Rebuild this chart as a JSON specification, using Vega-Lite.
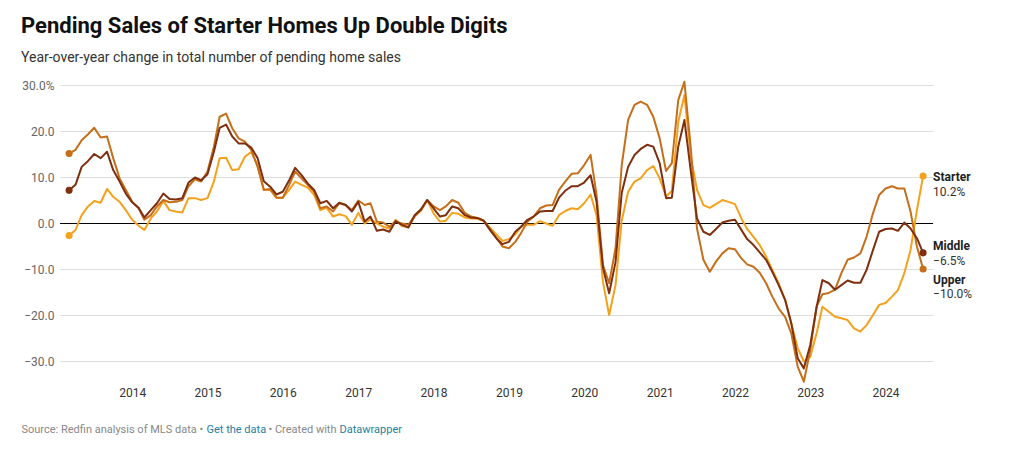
{
  "$schema": "https://vega.github.io/schema/vega-lite/v6.json",
  "width": 873,
  "height": 299,
  "autosize": {"type": "none"},
  "padding": {"left": 60, "top": 85, "right": 80, "bottom": 66},
  "background": "white",
  "title": {
    "text": "Pending Sales of Starter Homes Up Double Digits",
    "subtitle": "Year-over-year change in total number of pending home sales",
    "anchor": "start",
    "frame": "group",
    "dx": -39,
    "font": "Roboto",
    "fontSize": 22,
    "fontWeight": 700,
    "color": "#111111",
    "subtitleFont": "Roboto",
    "subtitleFontSize": 14,
    "subtitleColor": "#333333",
    "subtitlePadding": 13,
    "offset": 13
  },
  "config": {"view": {"stroke": null}, "font": "Roboto"},
  "resolve": {"axis": {"x": "independent"}},
  "data": {
    "values": [
      {"date": "2013-03-01", "Starter": -2.7, "Middle": 7.1, "Upper": 15.1},
      {"date": "2013-04-01", "Starter": -1.5, "Middle": 8.3, "Upper": 15.9},
      {"date": "2013-05-01", "Starter": 1.7, "Middle": 12.2, "Upper": 18.0},
      {"date": "2013-06-01", "Starter": 3.6, "Middle": 13.5, "Upper": 19.3},
      {"date": "2013-07-01", "Starter": 4.8, "Middle": 15.0, "Upper": 20.7},
      {"date": "2013-08-01", "Starter": 4.4, "Middle": 14.1, "Upper": 18.6},
      {"date": "2013-09-01", "Starter": 7.4, "Middle": 15.5, "Upper": 18.8},
      {"date": "2013-10-01", "Starter": 5.7, "Middle": 11.5, "Upper": 14.1},
      {"date": "2013-11-01", "Starter": 4.6, "Middle": 9.0, "Upper": 9.7},
      {"date": "2013-12-01", "Starter": 2.8, "Middle": 6.4, "Upper": 7.2},
      {"date": "2014-01-01", "Starter": 0.7, "Middle": 4.5, "Upper": 4.6},
      {"date": "2014-02-01", "Starter": -0.6, "Middle": 3.3, "Upper": 3.2},
      {"date": "2014-03-01", "Starter": -1.5, "Middle": 1.2, "Upper": 0.7},
      {"date": "2014-04-01", "Starter": 1.0, "Middle": 2.8, "Upper": 1.7},
      {"date": "2014-05-01", "Starter": 2.5, "Middle": 4.3, "Upper": 3.6},
      {"date": "2014-06-01", "Starter": 4.8, "Middle": 6.4, "Upper": 5.0},
      {"date": "2014-07-01", "Starter": 2.8, "Middle": 5.2, "Upper": 4.5},
      {"date": "2014-08-01", "Starter": 2.5, "Middle": 5.1, "Upper": 4.6},
      {"date": "2014-09-01", "Starter": 2.3, "Middle": 5.4, "Upper": 5.0},
      {"date": "2014-10-01", "Starter": 5.4, "Middle": 8.8, "Upper": 8.0},
      {"date": "2014-11-01", "Starter": 5.4, "Middle": 9.9, "Upper": 9.5},
      {"date": "2014-12-01", "Starter": 5.0, "Middle": 9.3, "Upper": 9.0},
      {"date": "2015-01-01", "Starter": 5.4, "Middle": 10.6, "Upper": 11.2},
      {"date": "2015-02-01", "Starter": 9.0, "Middle": 15.5, "Upper": 16.6},
      {"date": "2015-03-01", "Starter": 14.1, "Middle": 20.7, "Upper": 23.1},
      {"date": "2015-04-01", "Starter": 14.2, "Middle": 21.4, "Upper": 23.8},
      {"date": "2015-05-01", "Starter": 11.5, "Middle": 18.8, "Upper": 20.6},
      {"date": "2015-06-01", "Starter": 11.7, "Middle": 17.3, "Upper": 18.4},
      {"date": "2015-07-01", "Starter": 14.4, "Middle": 17.3, "Upper": 17.7},
      {"date": "2015-08-01", "Starter": 15.4, "Middle": 16.4, "Upper": 15.9},
      {"date": "2015-09-01", "Starter": 12.6, "Middle": 14.1, "Upper": 12.2},
      {"date": "2015-10-01", "Starter": 7.2, "Middle": 9.1, "Upper": 7.2},
      {"date": "2015-11-01", "Starter": 7.2, "Middle": 7.9, "Upper": 7.4},
      {"date": "2015-12-01", "Starter": 5.5, "Middle": 6.2, "Upper": 5.5},
      {"date": "2016-01-01", "Starter": 5.5, "Middle": 6.8, "Upper": 5.5},
      {"date": "2016-02-01", "Starter": 7.2, "Middle": 9.3, "Upper": 8.3},
      {"date": "2016-03-01", "Starter": 9.0, "Middle": 12.0, "Upper": 11.2},
      {"date": "2016-04-01", "Starter": 8.3, "Middle": 10.4, "Upper": 9.7},
      {"date": "2016-05-01", "Starter": 7.7, "Middle": 8.6, "Upper": 8.3},
      {"date": "2016-06-01", "Starter": 6.1, "Middle": 7.2, "Upper": 6.8},
      {"date": "2016-07-01", "Starter": 2.8, "Middle": 4.3, "Upper": 3.2},
      {"date": "2016-08-01", "Starter": 3.3, "Middle": 4.8, "Upper": 3.6},
      {"date": "2016-09-01", "Starter": 1.4, "Middle": 3.2, "Upper": 2.5},
      {"date": "2016-10-01", "Starter": 1.9, "Middle": 4.4, "Upper": 4.3},
      {"date": "2016-11-01", "Starter": 1.5, "Middle": 3.9, "Upper": 3.9},
      {"date": "2016-12-01", "Starter": -0.4, "Middle": 2.5, "Upper": 2.8},
      {"date": "2017-01-01", "Starter": 2.2, "Middle": 4.6, "Upper": 4.9},
      {"date": "2017-02-01", "Starter": -0.1, "Middle": 0.3, "Upper": 3.9},
      {"date": "2017-03-01", "Starter": 0.8, "Middle": 1.4, "Upper": 4.3},
      {"date": "2017-04-01", "Starter": -0.1, "Middle": -1.7, "Upper": 0.3},
      {"date": "2017-05-01", "Starter": -0.8, "Middle": -1.4, "Upper": 0.1},
      {"date": "2017-06-01", "Starter": -1.2, "Middle": -1.9, "Upper": -0.8},
      {"date": "2017-07-01", "Starter": 0.7, "Middle": 0.4, "Upper": 0.3},
      {"date": "2017-08-01", "Starter": -0.7, "Middle": -0.4, "Upper": -0.1},
      {"date": "2017-09-01", "Starter": -0.8, "Middle": -1.0, "Upper": -0.4},
      {"date": "2017-10-01", "Starter": 1.4, "Middle": 1.7, "Upper": 1.5},
      {"date": "2017-11-01", "Starter": 2.7, "Middle": 3.0, "Upper": 2.8},
      {"date": "2017-12-01", "Starter": 5.0, "Middle": 5.0, "Upper": 5.0},
      {"date": "2018-01-01", "Starter": 2.1, "Middle": 3.2, "Upper": 3.6},
      {"date": "2018-02-01", "Starter": 0.3, "Middle": 1.4, "Upper": 2.8},
      {"date": "2018-03-01", "Starter": 0.5, "Middle": 1.7, "Upper": 3.6},
      {"date": "2018-04-01", "Starter": 2.2, "Middle": 3.6, "Upper": 5.0},
      {"date": "2018-05-01", "Starter": 2.0, "Middle": 3.2, "Upper": 4.4},
      {"date": "2018-06-01", "Starter": 1.2, "Middle": 1.7, "Upper": 2.2},
      {"date": "2018-07-01", "Starter": 1.0, "Middle": 1.2, "Upper": 1.4},
      {"date": "2018-08-01", "Starter": 0.9, "Middle": 1.1, "Upper": 1.1},
      {"date": "2018-09-01", "Starter": 0.4, "Middle": 0.5, "Upper": 0.5},
      {"date": "2018-10-01", "Starter": -1.0, "Middle": -1.5, "Upper": -1.2},
      {"date": "2018-11-01", "Starter": -2.5, "Middle": -3.3, "Upper": -3.2},
      {"date": "2018-12-01", "Starter": -3.9, "Middle": -4.6, "Upper": -5.1},
      {"date": "2019-01-01", "Starter": -3.5, "Middle": -4.1, "Upper": -5.5},
      {"date": "2019-02-01", "Starter": -2.5, "Middle": -1.9, "Upper": -4.1},
      {"date": "2019-03-01", "Starter": -0.8, "Middle": -0.8, "Upper": -2.2},
      {"date": "2019-04-01", "Starter": -0.4, "Middle": 0.7, "Upper": 0.3},
      {"date": "2019-05-01", "Starter": -0.4, "Middle": 1.4, "Upper": 1.4},
      {"date": "2019-06-01", "Starter": 0.4, "Middle": 2.5, "Upper": 3.2},
      {"date": "2019-07-01", "Starter": -0.1, "Middle": 2.6, "Upper": 3.8},
      {"date": "2019-08-01", "Starter": -0.6, "Middle": 2.6, "Upper": 3.9},
      {"date": "2019-09-01", "Starter": 1.7, "Middle": 5.5, "Upper": 7.2},
      {"date": "2019-10-01", "Starter": 2.6, "Middle": 7.0, "Upper": 9.0},
      {"date": "2019-11-01", "Starter": 3.2, "Middle": 8.0, "Upper": 10.7},
      {"date": "2019-12-01", "Starter": 3.0, "Middle": 8.0, "Upper": 10.8},
      {"date": "2020-01-01", "Starter": 4.3, "Middle": 8.8, "Upper": 12.6},
      {"date": "2020-02-01", "Starter": 6.2, "Middle": 10.4, "Upper": 14.8},
      {"date": "2020-03-01", "Starter": 1.7, "Middle": 4.6, "Upper": 6.1},
      {"date": "2020-04-01", "Starter": -12.8, "Middle": -9.7, "Upper": -9.1},
      {"date": "2020-05-01", "Starter": -20.0, "Middle": -15.3, "Upper": -13.1},
      {"date": "2020-06-01", "Starter": -13.5, "Middle": -8.5, "Upper": -5.5},
      {"date": "2020-07-01", "Starter": 0.5, "Middle": 6.5, "Upper": 12.5},
      {"date": "2020-08-01", "Starter": 6.8, "Middle": 12.2, "Upper": 22.4},
      {"date": "2020-09-01", "Starter": 9.0, "Middle": 14.8, "Upper": 25.7},
      {"date": "2020-10-01", "Starter": 9.7, "Middle": 16.1, "Upper": 26.4},
      {"date": "2020-11-01", "Starter": 11.5, "Middle": 17.0, "Upper": 25.7},
      {"date": "2020-12-01", "Starter": 12.4, "Middle": 16.6, "Upper": 23.1},
      {"date": "2021-01-01", "Starter": 9.7, "Middle": 13.0, "Upper": 18.4},
      {"date": "2021-02-01", "Starter": 5.7, "Middle": 5.4, "Upper": 11.3},
      {"date": "2021-03-01", "Starter": 7.0, "Middle": 5.5, "Upper": 13.0},
      {"date": "2021-04-01", "Starter": 22.0, "Middle": 16.6, "Upper": 26.7},
      {"date": "2021-05-01", "Starter": 27.8, "Middle": 22.4, "Upper": 30.7},
      {"date": "2021-06-01", "Starter": 14.4, "Middle": 11.2, "Upper": 16.2},
      {"date": "2021-07-01", "Starter": 7.2, "Middle": 1.0, "Upper": -1.2},
      {"date": "2021-08-01", "Starter": 3.9, "Middle": -1.9, "Upper": -8.0},
      {"date": "2021-09-01", "Starter": 3.3, "Middle": -2.6, "Upper": -10.6},
      {"date": "2021-10-01", "Starter": 4.1, "Middle": -1.3, "Upper": -8.4},
      {"date": "2021-11-01", "Starter": 5.0, "Middle": 0.1, "Upper": -6.6},
      {"date": "2021-12-01", "Starter": 4.6, "Middle": 0.5, "Upper": -5.5},
      {"date": "2022-01-01", "Starter": 4.1, "Middle": 0.7, "Upper": -5.7},
      {"date": "2022-02-01", "Starter": 1.0, "Middle": -1.5, "Upper": -7.7},
      {"date": "2022-03-01", "Starter": -1.3, "Middle": -3.5, "Upper": -9.0},
      {"date": "2022-04-01", "Starter": -3.0, "Middle": -4.8, "Upper": -9.5},
      {"date": "2022-05-01", "Starter": -4.8, "Middle": -6.4, "Upper": -10.8},
      {"date": "2022-06-01", "Starter": -7.3, "Middle": -8.0, "Upper": -13.1},
      {"date": "2022-07-01", "Starter": -10.2, "Middle": -10.6, "Upper": -16.0},
      {"date": "2022-08-01", "Starter": -13.1, "Middle": -13.5, "Upper": -18.6},
      {"date": "2022-09-01", "Starter": -16.7, "Middle": -16.7, "Upper": -20.4},
      {"date": "2022-10-01", "Starter": -21.8, "Middle": -21.8, "Upper": -24.0},
      {"date": "2022-11-01", "Starter": -27.2, "Middle": -29.4, "Upper": -31.2},
      {"date": "2022-12-01", "Starter": -30.1, "Middle": -31.6, "Upper": -34.5},
      {"date": "2023-01-01", "Starter": -29.1, "Middle": -26.5, "Upper": -27.6},
      {"date": "2023-02-01", "Starter": -23.9, "Middle": -18.2, "Upper": -18.1},
      {"date": "2023-03-01", "Starter": -18.2, "Middle": -12.4, "Upper": -15.5},
      {"date": "2023-04-01", "Starter": -19.3, "Middle": -13.1, "Upper": -15.2},
      {"date": "2023-05-01", "Starter": -20.4, "Middle": -14.5, "Upper": -14.5},
      {"date": "2023-06-01", "Starter": -20.7, "Middle": -13.5, "Upper": -10.9},
      {"date": "2023-07-01", "Starter": -21.1, "Middle": -12.5, "Upper": -8.0},
      {"date": "2023-08-01", "Starter": -22.9, "Middle": -13.0, "Upper": -7.5},
      {"date": "2023-09-01", "Starter": -23.6, "Middle": -13.0, "Upper": -6.6},
      {"date": "2023-10-01", "Starter": -22.2, "Middle": -10.2, "Upper": -3.0},
      {"date": "2023-11-01", "Starter": -20.0, "Middle": -5.9, "Upper": 2.1},
      {"date": "2023-12-01", "Starter": -17.8, "Middle": -1.9, "Upper": 6.1},
      {"date": "2024-01-01", "Starter": -17.4, "Middle": -1.3, "Upper": 7.5},
      {"date": "2024-02-01", "Starter": -16.0, "Middle": -1.2, "Upper": 8.0},
      {"date": "2024-03-01", "Starter": -14.6, "Middle": -1.7, "Upper": 7.5},
      {"date": "2024-04-01", "Starter": -10.9, "Middle": 0.1, "Upper": 7.5},
      {"date": "2024-05-01", "Starter": -5.9, "Middle": -1.2, "Upper": 2.5},
      {"date": "2024-06-01", "Starter": 2.8, "Middle": -3.3, "Upper": -5.1},
      {"date": "2024-07-01", "Starter": 10.2, "Middle": -6.5, "Upper": -10.0}
    ]
  },
  "transform": [
    {"fold": ["Starter", "Upper", "Middle"], "as": ["series", "value"]}
  ],
  "layer": [
    {
      "mark": {"type": "rule", "color": "#000000", "strokeWidth": 1, "yOffset": 0.5},
      "encoding": {"y": {"datum": 0, "type": "quantitative"}}
    },
    {
      "mark": {"type": "line", "strokeWidth": 2, "strokeJoin": "round"},
      "encoding": {
        "x": {
          "field": "date",
          "type": "temporal",
          "scale": {
            "type": "utc",
            "domain": [
              {"year": 2013, "month": 1, "date": 16, "utc": true},
              {"year": 2024, "month": 8, "date": 18, "utc": true}
            ]
          },
          "axis": {
            "orient": "bottom",
            "title": "Source: Redfin analysis of MLS data •",
            "titleFont": "Roboto",
            "titleFontSize": 11,
            "titleFontWeight": "normal",
            "titleColor": "#888888",
            "titleAnchor": "start",
            "titleAlign": "left",
            "titleX": -39,
            "titleY": 48,
            "titleBaseline": "alphabetic",
            "tickCount": "year",
            "labelExpr": "utcFormat(datum.value, '%Y')",
            "labelFont": "Roboto",
            "labelFontSize": 12,
            "labelColor": "#333333",
            "labelPadding": 3,
            "ticks": false,
            "domain": false,
            "grid": false
          }
        },
        "y": {
          "field": "value",
          "type": "quantitative",
          "scale": {"domain": [-35, 30], "nice": false, "zero": false},
          "axis": {
            "title": null,
            "values": [-30, -20, -10, 0, 10, 20, 30],
            "labelExpr": "datum.value == 30 ? format(datum.value, '.1f') + '%' : format(datum.value, '.1f')",
            "labelFont": "Roboto",
            "labelFontSize": 12,
            "labelColor": "#666666",
            "labelPadding": 6,
            "ticks": false,
            "domain": false,
            "grid": true,
            "gridColor": "#dddddd",
            "gridWidth": 1
          }
        },
        "color": {
          "field": "series",
          "type": "nominal",
          "scale": {"domain": ["Starter", "Upper", "Middle"], "range": ["#f4a11d", "#c56f1a", "#7f2f0f"]},
          "legend": null
        }
      }
    },
    {
      "transform": [
        {"window": [{"op": "row_number", "as": "rn"}], "sort": [{"field": "date", "order": "ascending"}], "groupby": ["series"]},
        {"joinaggregate": [{"op": "count", "as": "n"}], "groupby": ["series"]},
        {"filter": "datum.rn == 1 || datum.rn == datum.n"}
      ],
      "mark": {"type": "circle", "size": 50, "opacity": 1},
      "encoding": {
        "x": {
          "field": "date",
          "type": "temporal",
          "axis": {
            "orient": "bottom",
            "title": "Get the data",
            "titleFont": "Roboto",
            "titleFontSize": 11,
            "titleFontWeight": "normal",
            "titleColor": "#1d81a2",
            "titleAnchor": "start",
            "titleAlign": "left",
            "titleX": 146,
            "titleY": 48,
            "titleBaseline": "alphabetic",
            "labels": false,
            "ticks": false,
            "domain": false,
            "grid": false
          }
        },
        "y": {"field": "value", "type": "quantitative"},
        "color": {"field": "series", "type": "nominal", "legend": null}
      }
    },
    {
      "transform": [
        {"window": [{"op": "row_number", "as": "rn"}], "sort": [{"field": "date", "order": "descending"}], "groupby": ["series"]},
        {"filter": "datum.rn == 1 && datum.series == 'Starter'"}
      ],
      "mark": {"type": "text", "align": "left", "baseline": "middle", "dx": 10, "dy": 1, "fontWeight": "bold", "fontSize": 12, "font": "Roboto", "color": "#222222"},
      "encoding": {
        "x": {
          "field": "date",
          "type": "temporal",
          "axis": {
            "orient": "bottom",
            "title": "• Created with",
            "titleFont": "Roboto",
            "titleFontSize": 11,
            "titleFontWeight": "normal",
            "titleColor": "#888888",
            "titleAnchor": "start",
            "titleAlign": "left",
            "titleX": 208,
            "titleY": 48,
            "titleBaseline": "alphabetic",
            "labels": false,
            "ticks": false,
            "domain": false,
            "grid": false
          }
        },
        "y": {"field": "value", "type": "quantitative"},
        "text": {"field": "series"}
      }
    },
    {
      "transform": [
        {"window": [{"op": "row_number", "as": "rn"}], "sort": [{"field": "date", "order": "descending"}], "groupby": ["series"]},
        {"filter": "datum.rn == 1 && datum.series == 'Starter'"},
        {"calculate": "format(datum.value, '.1f') + '%'", "as": "lbl"}
      ],
      "mark": {"type": "text", "align": "left", "baseline": "middle", "dx": 10, "dy": 16, "fontSize": 12, "font": "Roboto", "color": "#333333"},
      "encoding": {
        "x": {
          "field": "date",
          "type": "temporal",
          "axis": {
            "orient": "bottom",
            "title": "Datawrapper",
            "titleFont": "Roboto",
            "titleFontSize": 11,
            "titleFontWeight": "normal",
            "titleColor": "#1d81a2",
            "titleAnchor": "start",
            "titleAlign": "left",
            "titleX": 279,
            "titleY": 48,
            "titleBaseline": "alphabetic",
            "labels": false,
            "ticks": false,
            "domain": false,
            "grid": false
          }
        },
        "y": {"field": "value", "type": "quantitative"},
        "text": {"field": "lbl"}
      }
    },
    {
      "transform": [
        {"window": [{"op": "row_number", "as": "rn"}], "sort": [{"field": "date", "order": "descending"}], "groupby": ["series"]},
        {"filter": "datum.rn == 1 && datum.series == 'Middle'"}
      ],
      "mark": {"type": "text", "align": "left", "baseline": "middle", "dx": 10, "dy": -7, "fontWeight": "bold", "fontSize": 12, "font": "Roboto", "color": "#222222"},
      "encoding": {
        "x": {"field": "date", "type": "temporal", "axis": null},
        "y": {"field": "value", "type": "quantitative"},
        "text": {"field": "series"}
      }
    },
    {
      "transform": [
        {"window": [{"op": "row_number", "as": "rn"}], "sort": [{"field": "date", "order": "descending"}], "groupby": ["series"]},
        {"filter": "datum.rn == 1 && datum.series == 'Middle'"},
        {"calculate": "format(datum.value, '.1f') + '%'", "as": "lbl"}
      ],
      "mark": {"type": "text", "align": "left", "baseline": "middle", "dx": 10, "dy": 8, "fontSize": 12, "font": "Roboto", "color": "#333333"},
      "encoding": {
        "x": {"field": "date", "type": "temporal", "axis": null},
        "y": {"field": "value", "type": "quantitative"},
        "text": {"field": "lbl"}
      }
    },
    {
      "transform": [
        {"window": [{"op": "row_number", "as": "rn"}], "sort": [{"field": "date", "order": "descending"}], "groupby": ["series"]},
        {"filter": "datum.rn == 1 && datum.series == 'Upper'"}
      ],
      "mark": {"type": "text", "align": "left", "baseline": "middle", "dx": 10, "dy": 11, "fontWeight": "bold", "fontSize": 12, "font": "Roboto", "color": "#222222"},
      "encoding": {
        "x": {"field": "date", "type": "temporal", "axis": null},
        "y": {"field": "value", "type": "quantitative"},
        "text": {"field": "series"}
      }
    },
    {
      "transform": [
        {"window": [{"op": "row_number", "as": "rn"}], "sort": [{"field": "date", "order": "descending"}], "groupby": ["series"]},
        {"filter": "datum.rn == 1 && datum.series == 'Upper'"},
        {"calculate": "format(datum.value, '.1f') + '%'", "as": "lbl"}
      ],
      "mark": {"type": "text", "align": "left", "baseline": "middle", "dx": 10, "dy": 25, "fontSize": 12, "font": "Roboto", "color": "#333333"},
      "encoding": {
        "x": {"field": "date", "type": "temporal", "axis": null},
        "y": {"field": "value", "type": "quantitative"},
        "text": {"field": "lbl"}
      }
    }
  ]
}
